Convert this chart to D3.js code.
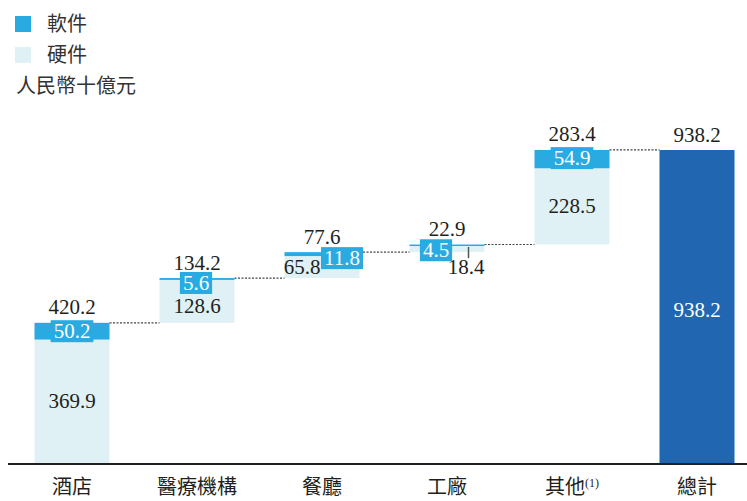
<!DOCTYPE html>
<html>
<head>
<meta charset="utf-8">
<script src="https://cdn.jsdelivr.net/npm/d3@7/dist/d3.min.js"></script>
<style>
  body { margin: 0; background: #fff; }
  svg { display: block; }
  text.num { font-family: "Liberation Serif", "Times New Roman", serif; font-size: 21px; fill: #231f20; }
  text.cjk { font-family: "Noto Sans CJK TC", "Noto Sans CJK SC", sans-serif; fill: #231f20; }
</style>
</head>
<body>
<div class="chart"></div>
<script>
var categories = ['酒店', '醫療機構', '餐廳', '工廠', '其他', '總計'];
var hardware = [369.9, 128.6, 65.8, 18.4, 228.5];
var software = [50.2, 5.6, 11.8, 4.5, 54.9];
var subtotals = [420.2, 134.2, 77.6, 22.9, 283.4];
var grandTotal = 938.2;
var seriesNames = ['軟件', '硬件'];
var unitLabel = '人民幣十億元';

var width = 747, height = 501;
var colSoft = '#29abe2', colHard = '#e0f1f6', colTotal = '#2166b1', colText = '#231f20';

var svg = d3.select('.chart').append('svg')
  .attr('width', width)
  .attr('height', height);

var x = d3.scaleBand()
  .domain(categories)
  .range([9.5, 759.5])
  .paddingInner(0.4)
  .paddingOuter(0.2);

var y = d3.scaleLinear()
  .domain([0, grandTotal])
  .range([463, 150]);

var bw = x.bandwidth();

// running bases for the waterfall
var rows = subtotals.map(function(s, i){
  var base = d3.sum(subtotals.slice(0, i));
  return { cat: categories[i], base: base, hw: hardware[i], sw: software[i], total: s, top: base + s };
});

// label nudges (px) for the small steps
var swNudge = [[0, 0], [-1, 4], [20, 4], [-11, 5], [0, -1]];
var hwNudge = [[0, 0], [0, 5], [-20, 0], [19, 18], [0, 0]];

// hardware segments
svg.selectAll('rect.hw')
  .data(rows)
  .enter().append('rect')
  .attr('class', 'hw')
  .attr('x', function(d){ return x(d.cat) })
  .attr('width', bw)
  .attr('y', function(d){ return y(d.base + d.hw) })
  .attr('height', function(d){ return y(d.base) - y(d.base + d.hw) })
  .attr('fill', colHard);

// software segments
svg.selectAll('rect.sw')
  .data(rows)
  .enter().append('rect')
  .attr('class', 'sw')
  .attr('x', function(d){ return x(d.cat) })
  .attr('width', bw)
  .attr('y', function(d){ return y(d.top) })
  .attr('height', function(d){ return Math.max(1.5, y(d.base + d.hw) - y(d.top)) })
  .attr('fill', colSoft);

// total bar
svg.append('rect')
  .attr('x', x('總計'))
  .attr('width', bw)
  .attr('y', y(grandTotal))
  .attr('height', y(0) - y(grandTotal))
  .attr('fill', colTotal);

// dotted connectors
var tops = rows.map(function(d){ return d.top });
svg.selectAll('line.conn')
  .data(tops)
  .enter().append('line')
  .attr('class', 'conn')
  .attr('x1', function(d, i){ return x(categories[i]) + bw })
  .attr('x2', function(d, i){ return x(categories[i + 1]) })
  .attr('y1', function(d){ return y(d) })
  .attr('y2', function(d){ return y(d) })
  .attr('stroke', '#444')
  .attr('stroke-width', 1.2)
  .attr('stroke-dasharray', '2,1.5');

// hardware value labels
svg.selectAll('text.hwl')
  .data(rows)
  .enter().append('text')
  .attr('class', 'num')
  .attr('font-family', 'Liberation Serif')
  .attr('text-anchor', 'middle')
  .attr('x', function(d, i){ return x(d.cat) + bw / 2 + hwNudge[i][0] })
  .attr('y', function(d, i){ return (y(d.base) + y(d.base + d.hw)) / 2 + 7 + hwNudge[i][1] })
  .text(function(d){ return d3.format('.1f')(d.hw) });

// small leader for the factory hardware label
svg.append('line')
  .attr('x1', x('工廠') + bw / 2 + 21.5).attr('x2', x('工廠') + bw / 2 + 21.5)
  .attr('y1', y(rows[3].base + rows[3].hw) + 1).attr('y2', y(rows[3].base) + 6)
  .attr('stroke', '#555').attr('stroke-width', 1.5);

// software value labels with blue boxes
var swg = svg.selectAll('g.swl')
  .data(rows)
  .enter().append('g')
  .attr('transform', function(d, i){
    var cx = x(d.cat) + bw / 2 + swNudge[i][0];
    var cy = (y(d.top) + y(d.base + d.hw)) / 2 + swNudge[i][1];
    return 'translate(' + cx + ',' + cy + ')';
  });

swg.append('text')
  .attr('class', 'num')
  .attr('font-family', 'Liberation Serif')
  .attr('text-anchor', 'middle')
  .attr('y', 7)
  .style('fill', '#fff')
  .text(function(d){ return d3.format('.1f')(d.sw) });

swg.insert('rect', 'text')
  .each(function(){
    var t = d3.select(this.parentNode).select('text').node().getBBox();
    d3.select(this)
      .attr('x', -t.width / 2 - 3)
      .attr('width', t.width + 6)
      .attr('y', -11)
      .attr('height', 22);
  })
  .attr('fill', colSoft);

// subtotal labels above
svg.selectAll('text.tot')
  .data(rows)
  .enter().append('text')
  .attr('class', 'num')
  .attr('font-family', 'Liberation Serif')
  .attr('text-anchor', 'middle')
  .attr('x', function(d){ return x(d.cat) + bw / 2 })
  .attr('y', function(d){ return y(d.top) - 8.5 })
  .text(function(d){ return d3.format('.1f')(d.total) });

svg.append('text')
  .attr('class', 'num')
  .attr('font-family', 'Liberation Serif')
  .attr('text-anchor', 'middle')
  .attr('x', x('總計') + bw / 2)
  .attr('y', y(grandTotal) - 8.5)
  .text(d3.format('.1f')(grandTotal));

svg.append('text')
  .attr('class', 'num')
  .attr('font-family', 'Liberation Serif')
  .attr('text-anchor', 'middle')
  .attr('x', x('總計') + bw / 2)
  .attr('y', (y(0) + y(grandTotal)) / 2 + 10)
  .style('fill', '#fff')
  .text(d3.format('.1f')(grandTotal));

// x axis
var xAxis = svg.append('g')
  .attr('transform', 'translate(0,' + 464 + ')')
  .call(d3.axisBottom(x).tickSize(0).tickSizeOuter(0).tickPadding(16));

xAxis.select('.domain')
  .attr('d', 'M8,0H747')
  .attr('stroke', colText)
  .attr('stroke-width', 2);

xAxis.selectAll('.tick text')
  .attr('class', 'cjk')
  .style('font-size', '20px')
  .style('fill', colText)
  .each(function(d){
    if (d === '其他') {
      var t = d3.select(this);
      t.text('其他');
      t.append('tspan')
        .style('font-family', 'Liberation Serif, serif')
        .style('font-size', '12px')
        .attr('dy', '-0.6em')
        .text('(1)');
    }
  });

// legend
var legend = svg.append('g');
var legendColors = [colSoft, colHard];
legend.selectAll('rect')
  .data(seriesNames)
  .enter().append('rect')
  .attr('x', 15)
  .attr('y', function(d, i){ return 16 + i * 31 })
  .attr('width', 16)
  .attr('height', 16)
  .attr('fill', function(d, i){ return legendColors[i] });

legend.selectAll('text')
  .data(seriesNames)
  .enter().append('text')
  .attr('class', 'cjk')
  .attr('x', 47)
  .attr('y', function(d, i){ return 31 + i * 31 })
  .style('font-size', '20px')
  .style('fill', '#333')
  .text(function(d){ return d });

svg.append('text')
  .attr('class', 'cjk')
  .attr('x', 16)
  .attr('y', 93)
  .style('font-size', '20px')
  .style('fill', '#333')
  .text(unitLabel);
</script>
</body>
</html>
